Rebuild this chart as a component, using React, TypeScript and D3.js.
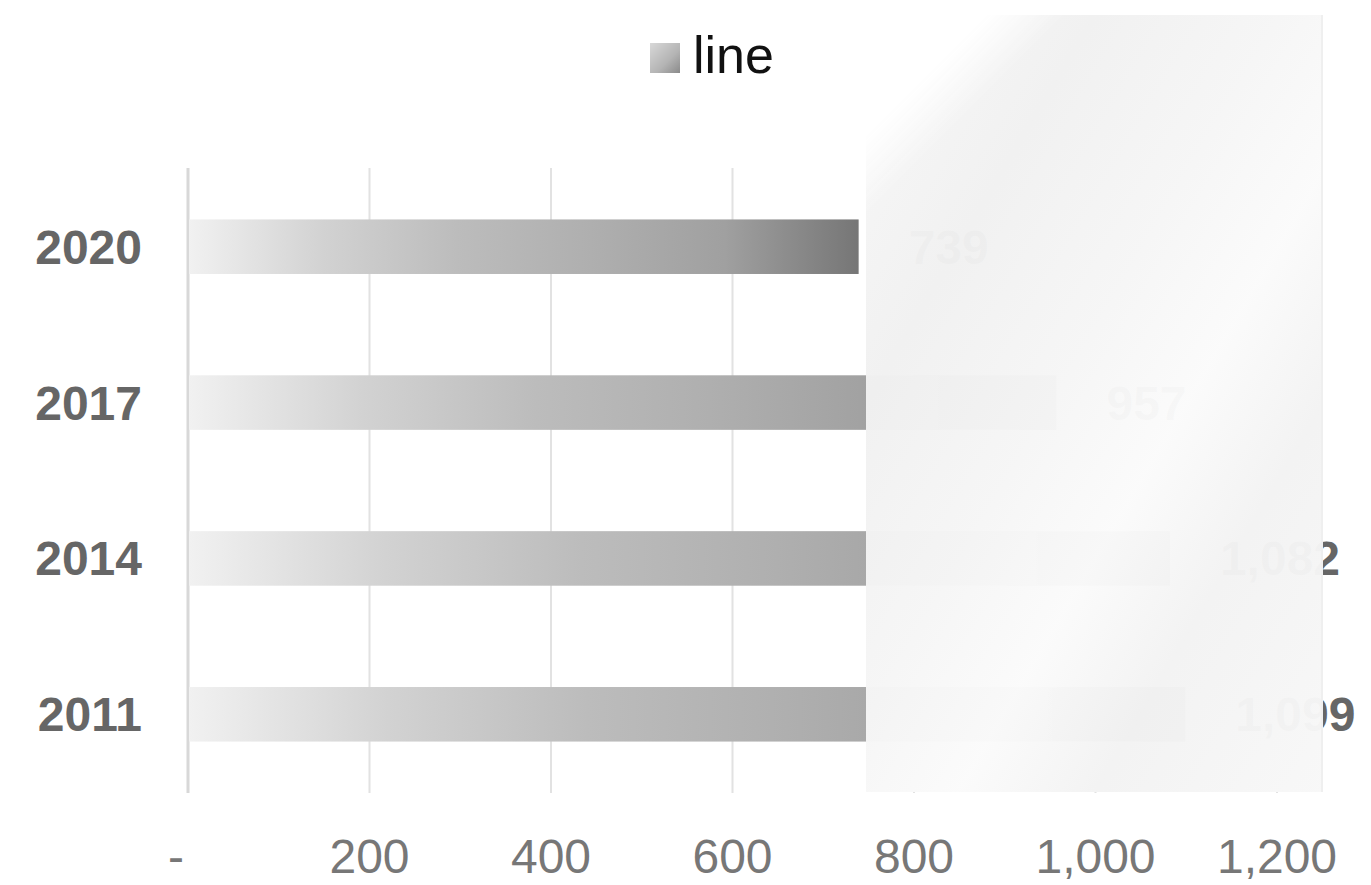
import React from "react";
import * as d3 from "d3";

const categories = ["2020", "2017", "2014", "2011"];
const values = [739, 957, 1082, 1099];
const xTicks = [0, 200, 400, 600, 800, 1000, 1200];
const seriesName = "line";

const W = 1371;
const H = 885;
const FONT = "'Liberation Sans', Arial, Helvetica, sans-serif";

export default function App() {
  const x = d3.scaleLinear().domain([0, 1200]).range([188, 1277]);
  const y = d3
    .scaleBand<string>()
    .domain(categories)
    .range([168, 793])
    .paddingInner(0.65)
    .paddingOuter(0.33);
  const fmt = d3.format(",");
  const tickFmt = (v: number) => (v === 0 ? "-" : fmt(v));

  return (
    <svg
      width={W}
      height={H}
      style={{ position: "absolute", left: 0, top: 0, background: "#fff" }}
      fontFamily={FONT}
    >
      <defs>
        <linearGradient id="barGrad" x1="0" y1="0" x2="1" y2="0">
          <stop offset="0" stopColor="#f1f1f1" />
          <stop offset="0.2" stopColor="#d2d2d2" />
          <stop offset="0.4" stopColor="#bcbcbc" />
          <stop offset="0.6" stopColor="#afafaf" />
          <stop offset="0.8" stopColor="#a0a0a0" />
          <stop offset="1" stopColor="#767676" />
        </linearGradient>
        <linearGradient id="legGrad" x1="0" y1="0" x2="1" y2="1">
          <stop offset="0" stopColor="#d8d8d8" />
          <stop offset="0.6" stopColor="#b4b4b4" />
          <stop offset="1" stopColor="#8a8a8a" />
        </linearGradient>
        <linearGradient id="paper" x1="0" y1="0" x2="1" y2="1">
          <stop offset="0" stopColor="#f8f8f8" />
          <stop offset="0.25" stopColor="#f1f1f1" />
          <stop offset="0.45" stopColor="#f6f6f6" />
          <stop offset="0.6" stopColor="#fbfbfb" />
          <stop offset="0.75" stopColor="#f3f3f3" />
          <stop offset="1" stopColor="#f8f8f8" />
        </linearGradient>
        <linearGradient
          id="fadeGrad"
          gradientUnits="userSpaceOnUse"
          x1="500"
          y1="500"
          x2="540"
          y2="540"
        >
          <stop offset="0" stopColor="#000" />
          <stop offset="1" stopColor="#fff" />
        </linearGradient>
        <mask id="fadeMask" maskUnits="userSpaceOnUse" x="0" y="0" width={W} height={H}>
          <rect x="0" y="0" width={W} height={H} fill="url(#fadeGrad)" />
        </mask>
      </defs>

      {/* legend */}
      <rect x={650} y={43} width={30} height={30} fill="url(#legGrad)" />
      <text x={693} y={73} fontSize={52} fill="#111">
        {seriesName}
      </text>

      {/* gridlines */}
      {xTicks.map((t) => (
        <line
          key={"g" + t}
          x1={x(t)}
          x2={x(t)}
          y1={168}
          y2={793}
          stroke={t === 0 ? "#d8d8d8" : "#e2e2e2"}
          strokeWidth={t === 0 ? 3 : 2}
        />
      ))}

      {/* x tick labels */}
      {xTicks.map((t) => (
        <text
          key={"t" + t}
          x={t === 0 ? x(t) - 12 : x(t)}
          y={873}
          fontSize={48}
          fill="#777"
          textAnchor="middle"
        >
          {tickFmt(t)}
        </text>
      ))}

      {/* category labels */}
      {categories.map((c) => (
        <text
          key={"c" + c}
          x={142}
          y={(y(c) as number) + y.bandwidth() / 2 + 17}
          fontSize={48}
          fontWeight="bold"
          fill="#666"
          textAnchor="end"
        >
          {c}
        </text>
      ))}

      {/* bars */}
      {categories.map((c, i) => (
        <rect
          key={"b" + c}
          x={x(0) + 1}
          y={y(c) as number}
          width={x(values[i]) - x(0) - 1}
          height={y.bandwidth()}
          fill="url(#barGrad)"
        />
      ))}

      {/* data labels */}
      {categories.map((c, i) => (
        <text
          key={"v" + c}
          x={x(values[i]) + 50}
          y={(y(c) as number) + y.bandwidth() / 2 + 17}
          fontSize={48}
          fontWeight="bold"
          fill="#666"
        >
          {fmt(values[i])}
        </text>
      ))}

      {/* glare / paper overlay */}
      <g mask="url(#fadeMask)">
        <rect x={866} y={15} width={457} height={777} fill="url(#paper)" opacity={0.975} />
        <line x1={1322} x2={1322} y1={15} y2={792} stroke="#efefef" strokeWidth={2} />
      </g>
    </svg>
  );
}
